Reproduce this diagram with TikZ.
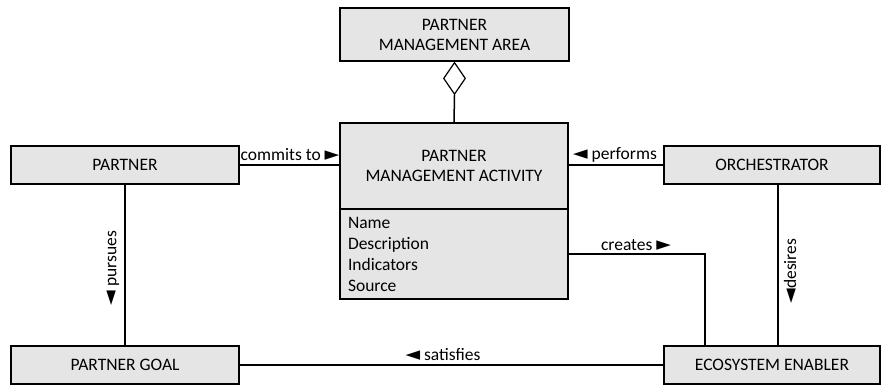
\documentclass[tikz,border=0pt]{standalone}
\usepackage{fontspec}
\setmainfont{Carlito}
\newfontfamily\symfont{DejaVu Sans}
\usetikzlibrary{shapes.geometric,calc}
\newcommand{\rtri}{{\symfont\fontsize{19}{19}\selectfont ►}}
\newcommand{\ltri}{{\symfont\fontsize{19}{19}\selectfont ◄}}
\begin{document}
\begin{tikzpicture}[x=1pt,y=-1pt,
  box/.style={draw, line width=1.6pt, fill=black!10, inner sep=0pt,
    font=\fontsize{17.5}{20}\selectfont, align=center},
  conn/.style={line width=1.5pt},
  lbl/.style={font=\fontsize{17.5}{20}\selectfont, inner sep=0pt}]
\useasboundingbox (0,0) rectangle (882,387);
\node[box, minimum width=229pt, minimum height=53pt] (pma) at (454.5,34.5) {PARTNER\\MANAGEMENT AREA};
\node[box, minimum width=228pt, minimum height=86pt] (act) at (454,166) {PARTNER\\MANAGEMENT ACTIVITY};
\node[box, minimum width=228pt, minimum height=90pt, align=left, text width=212pt,
  font=\fontsize{17.5}{21}\selectfont] (attr) at (454,254) {Name\\Description\\Indicators\\Source};
\node[box, minimum width=228pt, minimum height=38pt] (partner) at (125,165) {PARTNER};
\node[box, minimum width=216pt, minimum height=38pt] (orch) at (772,165) {ORCHESTRATOR};
\node[box, minimum width=228pt, minimum height=38pt] (goal) at (125,365) {PARTNER GOAL};
\node[box, minimum width=216pt, minimum height=38pt] (enab) at (772,365) {ECOSYSTEM ENABLER};
\node[diamond, draw, line width=1.2pt, fill=white, inner sep=0pt, aspect=0.69,
  minimum width=22pt, minimum height=32pt, anchor=north] (dia) at (pma.south) {};
\draw[conn] (dia.south) -- (act.north);
\draw[conn] (partner.east) -- (partner.east -| act.west);
\draw[conn] (orch.west -| act.east) -- (orch.west);
\draw[conn] (partner.south) -- (goal.north);
\draw[conn] (goal.east) -- (enab.west);
\draw[conn] ([xshift=6pt]orch.south) -- ([xshift=6pt]enab.north);
\draw[conn] (attr.east) -| ([xshift=-67pt]enab.north);
\node[lbl] (lcommit) at (290,155) {commits to \rtri};
\node[lbl] (lperf) at (615,155) {\ltri\ performs};
\node[lbl] (lcreate) at (636,245) {creates \rtri};
\node[lbl] (lsat) at (443,355) {\ltri\ satisfies};
\node[lbl, rotate=90] (lpur) at (113,268) {\ltri\ pursues};
\node[lbl, rotate=90] (ldes) at (790,271) {\ltri desires};
\end{tikzpicture}
\end{document}
